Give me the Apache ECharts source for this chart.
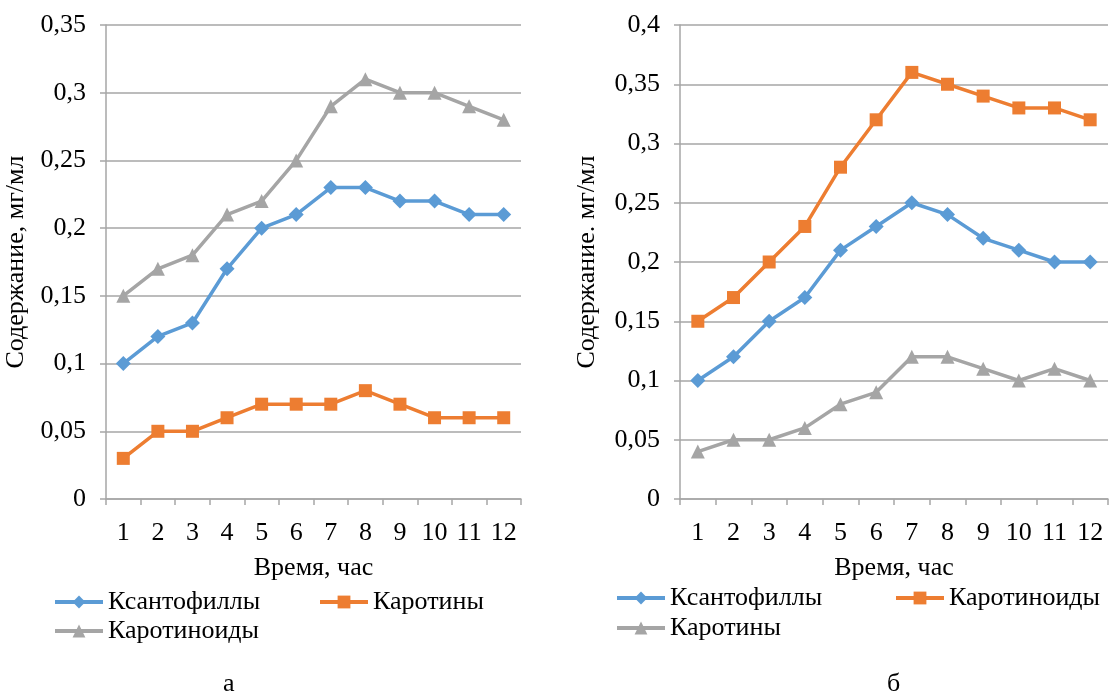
<!DOCTYPE html>
<html>
<head>
<meta charset="utf-8">
<script src="https://cdn.jsdelivr.net/npm/echarts@6/dist/echarts.min.js"></script>
<style>
  body { margin: 0; background: #fff; }
  #chartA { position: absolute; left: 0; top: 0; width: 555px; height: 698px; }
  #chartB { position: absolute; left: 555px; top: 0; width: 555px; height: 698px; }
</style>
</head>
<body>
<div id="chartA"></div>
<div id="chartB"></div>
<script>
// данные
var hours = ['1', '2', '3', '4', '5', '6', '7', '8', '9', '10', '11', '12'];

// рис. а
var xanthA = [0.10, 0.12, 0.13, 0.17, 0.20, 0.21, 0.23, 0.23, 0.22, 0.22, 0.21, 0.21];
var carotA = [0.03, 0.05, 0.05, 0.06, 0.07, 0.07, 0.07, 0.08, 0.07, 0.06, 0.06, 0.06];
var carotenoidsA = [0.15, 0.17, 0.18, 0.21, 0.22, 0.25, 0.29, 0.31, 0.30, 0.30, 0.29, 0.28];

// рис. б
var xanthB = [0.10, 0.12, 0.15, 0.17, 0.21, 0.23, 0.25, 0.24, 0.22, 0.21, 0.20, 0.20];
var carotenoidsB = [0.15, 0.17, 0.20, 0.23, 0.28, 0.32, 0.36, 0.35, 0.34, 0.33, 0.33, 0.32];
var carotB = [0.04, 0.05, 0.05, 0.06, 0.08, 0.09, 0.12, 0.12, 0.11, 0.10, 0.11, 0.10];

var BLUE = '#5b9bd5';
var ORANGE = '#ed7d31';
var GRAY = '#a5a5a5';
var FONT = '"Liberation Serif", "Times New Roman", serif';
var FS = 26;

function comma(v) {
  return String(+v.toFixed(2)).replace('.', ',');
}

function makeSeries(name, data, color, symbol, size) {
  return {
    name: name,
    type: 'line',
    data: data,
    symbol: symbol,
    symbolSize: size,
    lineStyle: { color: color, width: 3.5 },
    itemStyle: { color: color },
    animation: false
  };
}

function makeLegend(name, left, top) {
  return {
    data: [name],
    left: left,
    top: top,
    itemWidth: 48,
    itemHeight: 16,
    itemGap: 5,
    lineStyle: { width: 4 },
    textStyle: { fontFamily: FONT, fontSize: FS, color: '#000' }
  };
}

function makeOption(cfg) {
  return {
    animation: false,
    textStyle: { fontFamily: FONT },
    grid: { left: cfg.gridLeft, right: cfg.gridRight, top: 25, bottom: 199, outerBoundsMode: 'none' },
    legend: cfg.legends,
    xAxis: {
      type: 'category',
      data: hours,
      boundaryGap: true,
      name: 'Время, час',
      nameLocation: 'middle',
      nameGap: 56,
      nameTextStyle: { fontFamily: FONT, fontSize: FS, color: '#000' },
      axisLine: { lineStyle: { color: '#a6a6a6', width: 1.5 } },
      axisTick: { show: true, length: 6, lineStyle: { color: '#a6a6a6', width: 1.5 } },
      axisLabel: { fontFamily: FONT, fontSize: FS, color: '#000', margin: 21, interval: 0 }
    },
    yAxis: {
      type: 'value',
      min: 0,
      max: cfg.yMax,
      interval: 0.05,
      name: cfg.yName,
      nameLocation: 'middle',
      nameGap: cfg.yNameGap,
      nameTextStyle: { fontFamily: FONT, fontSize: FS, color: '#000' },
      axisLine: { show: true, lineStyle: { color: '#a6a6a6', width: 1.5 } },
      axisTick: { show: true, length: 6, lineStyle: { color: '#a6a6a6', width: 1.5 } },
      axisLabel: { fontFamily: FONT, fontSize: FS, color: '#000', margin: 20, formatter: comma },
      splitLine: { lineStyle: { color: '#a6a6a6', width: 1.5 } }
    },
    graphic: [{
      type: 'text',
      left: cfg.letterX,
      top: 671,
      style: { text: cfg.letter, font: FS + 'px ' + FONT, fill: '#000' }
    }],
    series: cfg.series
  };
}

function setupA() {
  var myChart = echarts.init(document.getElementById('chartA'));
  myChart.setOption(makeOption({
    gridLeft: 106,
    gridRight: 34,
    yMax: 0.35,
    yName: 'Содержание, мг/мл',
    yNameGap: 71,
    letter: 'а',
    letterX: 223,
    legends: [
      makeLegend('Ксантофиллы', 48, 584),
      makeLegend('Каротины', 313, 584),
      makeLegend('Каротиноиды', 48, 613)
    ],
    series: [
      makeSeries('Ксантофиллы', xanthA, BLUE, 'diamond', 15),
      makeSeries('Каротины', carotA, ORANGE, 'rect', 13),
      makeSeries('Каротиноиды', carotenoidsA, GRAY, 'triangle', 14)
    ]
  }));
}

function setupB() {
  var myChart = echarts.init(document.getElementById('chartB'));
  myChart.setOption(makeOption({
    gridLeft: 125,
    gridRight: 2,
    yMax: 0.4,
    yName: 'Содержание. мг/мл',
    yNameGap: 80,
    letter: 'б',
    letterX: 332,
    legends: [
      makeLegend('Ксантофиллы', 55, 580),
      makeLegend('Каротиноиды', 334, 580),
      makeLegend('Каротины', 55, 610)
    ],
    series: [
      makeSeries('Ксантофиллы', xanthB, BLUE, 'diamond', 15),
      makeSeries('Каротиноиды', carotenoidsB, ORANGE, 'rect', 13),
      makeSeries('Каротины', carotB, GRAY, 'triangle', 14)
    ]
  }));
}

setupA();
setupB();
</script>
</body>
</html>
